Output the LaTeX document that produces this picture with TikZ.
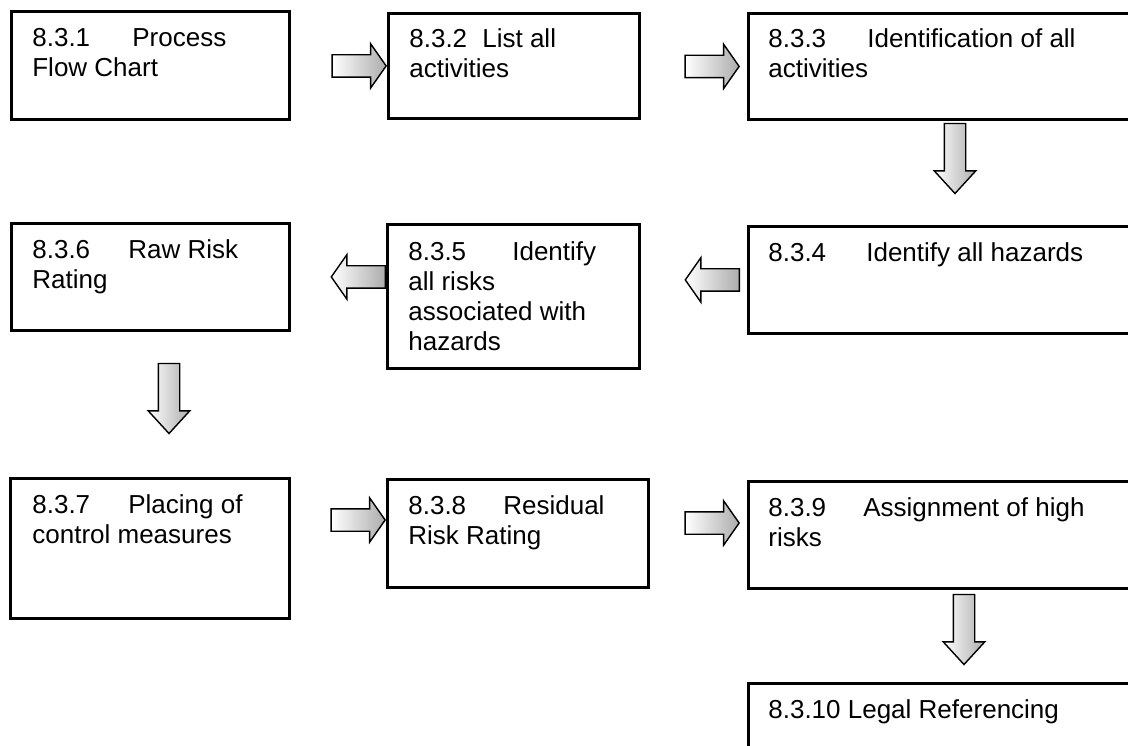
\documentclass[tikz,border=0pt]{standalone}
\usepackage{fontspec}
\setmainfont{Liberation Sans}
\usetikzlibrary{shapes.arrows,calc}

\newcommand{\stepfont}{\fontsize{14.8}{17.1}\selectfont}
\newcommand{\steptext}[3]{\parbox[t]{7cm}{\makebox[#1][l]{#2}#3}}

\tikzset{
    stepbox/.style={draw, line width=1.6pt, anchor=north west, inner sep=0pt},
    steplabel/.style={anchor=base west, inner sep=0pt, font=\stepfont},
    blockarrow/.style={single arrow, draw, line width=0.8pt, inner xsep=0pt,
        left color=white, right color=gray!65},
    rarrow/.style={blockarrow, inner ysep=0.21cm, minimum height=1.08cm,
        single arrow head extend=0.22cm, single arrow tip angle=110},
    darrow/.style={blockarrow, rotate=-90, inner ysep=0.20cm, minimum height=1.40cm,
        single arrow head extend=0.20cm, single arrow tip angle=85},
}

\begin{document}
\begin{tikzpicture}
        \useasboundingbox (0, 0) rectangle (22.56, -14.92);
        \clip (0, 0) rectangle (22.56, -14.92);

        % ---boxes
        \node[stepbox, minimum width=5.56cm, minimum height=2.16cm] (s1) at (0.20, -0.20) {};
        \node[stepbox, minimum width=5.02cm, minimum height=2.10cm] (s2) at (7.74, -0.24) {};
        \node[stepbox, minimum width=8.00cm, minimum height=2.12cm] (s3) at (14.94, -0.24) {};
        \node[stepbox, minimum width=8.00cm, minimum height=2.14cm] (s4) at (14.94, -4.50) {};
        \node[stepbox, minimum width=5.04cm, minimum height=2.88cm] (s5) at (7.72, -4.46) {};
        \node[stepbox, minimum width=5.56cm, minimum height=2.14cm] (s6) at (0.20, -4.44) {};
        \node[stepbox, minimum width=5.58cm, minimum height=2.80cm] (s7) at (0.18, -9.54) {};
        \node[stepbox, minimum width=5.22cm, minimum height=2.16cm] (s8) at (7.72, -9.56) {};
        \node[stepbox, minimum width=8.00cm, minimum height=2.14cm] (s9) at (14.94, -9.60) {};
        \node[stepbox, minimum width=8.00cm, minimum height=2.00cm] (s10) at (14.94, -13.64) {};

        % ---texts
        \node[steplabel] (t1) at ($(s1.north west)+(0.44, -0.72)$) {\steptext{2.00cm}{8.3.1}{Process\\Flow Chart}};
        \node[steplabel] (t2) at ($(s2.north west)+(0.44, -0.70)$) {\steptext{1.46cm}{8.3.2}{List all\\activities}};
        \node[steplabel] (t3) at ($(s3.north west)+(0.42, -0.70)$) {\steptext{1.98cm}{8.3.3}{Identification of all\\activities}};
        \node[steplabel] (t4) at ($(s4.north west)+(0.42, -0.72)$) {\steptext{1.96cm}{8.3.4}{Identify all hazards}};
        \node[steplabel] (t5) at ($(s5.north west)+(0.44, -0.74)$) {\steptext{2.08cm}{8.3.5}{Identify\\all risks\\associated with\\hazards}};
        \node[steplabel] (t6) at ($(s6.north west)+(0.44, -0.72)$) {\steptext{1.92cm}{8.3.6}{Raw Risk\\Rating}};
        \node[steplabel] (t7) at ($(s7.north west)+(0.46, -0.72)$) {\steptext{1.92cm}{8.3.7}{Placing of\\control measures}};
        \node[steplabel] (t8) at ($(s8.north west)+(0.44, -0.72)$) {\steptext{1.90cm}{8.3.8}{Residual\\Risk Rating}};
        \node[steplabel] (t9) at ($(s9.north west)+(0.42, -0.72)$) {\steptext{1.90cm}{8.3.9}{Assignment of high\\risks}};
        \node[steplabel] (t10) at ($(s10.north west)+(0.42, -0.72)$) {8.3.10 Legal Referencing};

        % ---arrows
        \node[rarrow, anchor=tip] (a12) at (s2.west) {};
        \node[rarrow, anchor=tip] (a23) at ($(s3.west)+(-0.14, 0)$) {};
        \node[darrow, anchor=tail] (a34) at ($(s3.south west)+(4.16, -0.04)$) {};
        \node[rarrow, rotate=180, anchor=tail] (a54) at ($(s4.west)+(-0.14, 0)$) {};
        \node[rarrow, rotate=180, anchor=tail] (a65) at (s5.west |- s6.east) {};
        \node[darrow, anchor=tail] (a67) at ($(s6.south west)+(3.18, -0.62)$) {};
        \node[rarrow, anchor=tip] (a78) at ($(s8.north west)+(0, -0.84)$) {};
        \node[rarrow, anchor=tip] (a89) at ($(s9.north west)+(-0.14, -0.86)$) {};
        \node[darrow, anchor=tail] (a910) at ($(s9.south west)+(4.34, -0.08)$) {};

\end{tikzpicture}
\end{document}
